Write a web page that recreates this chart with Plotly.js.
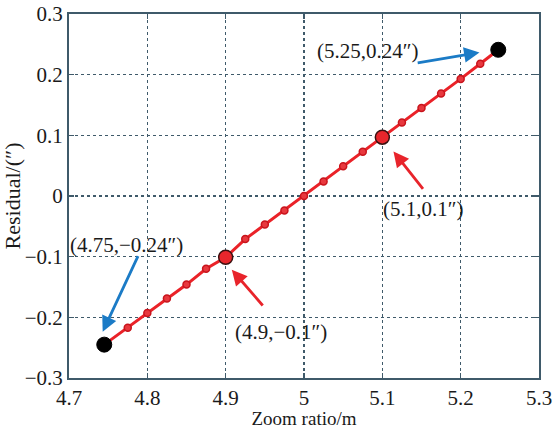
<!DOCTYPE html>
<html>
<head>
<meta charset="utf-8">
<script src="https://cdn.plot.ly/plotly-3.0.1.min.js"></script>
<style>html,body{margin:0;padding:0;background:#fff;}#chart{width:554px;height:429px;}</style>
</head>
<body>
<div id="chart"></div>
<script>
// Data
var zoomRatio = [4.745, 4.775, 4.8, 4.825, 4.85, 4.875, 4.9, 4.925, 4.95, 4.975, 5.0,
                 5.025, 5.05, 5.075, 5.1, 5.125, 5.15, 5.175, 5.2, 5.225, 5.248];
var residual = [-0.245, -0.217, -0.193, -0.169, -0.146, -0.120, -0.101, -0.071, -0.047, -0.024, 0.000,
                0.024, 0.049, 0.073, 0.097, 0.121, 0.145, 0.169, 0.193, 0.218, 0.241];
var highlightX = [4.9, 5.1];
var highlightY = [-0.101, 0.097];
var extremeX = [4.745, 5.248];
var extremeY = [-0.245, 0.241];
var labelTexts = ['(4.75,\u22120.24\u2033)', '(4.9,\u22120.1\u2033)', '(5.1,0.1\u2033)', '(5.25,0.24\u2033)'];
var xTicks = [4.7, 4.8, 4.9, 5.0, 5.1, 5.2, 5.3];
var xTickText = ['4.7', '4.8', '4.9', '5', '5.1', '5.2', '5.3'];
var yTicks = [-0.3, -0.2, -0.1, 0, 0.1, 0.2, 0.3];
var yTickText = ['\u22120.3', '\u22120.2', '\u22120.1', '0', '0.1', '0.2', '0.3'];

// Annotation layout (positions in data coords)
var labelPos = [[4.7728, -0.0803], [4.9708, -0.2237], [5.1521, -0.0209], [5.0815, 0.2384]];
var arrowDefs = [
  {tail: [4.789, -0.0967], head: [4.743, -0.2237], color: '#1b7bc6'},
  {tail: [4.949, -0.183], head: [4.9078, -0.1215], color: '#e8242b'},
  {tail: [5.1534, 0.0093], head: [5.1142, 0.0735], color: '#e8242b'},
  {tail: [5.1432, 0.2192], head: [5.224, 0.2367], color: '#1b7bc6'}
];

var FONT = 'Liberation Serif, Times New Roman, Times, serif';
var AX = '#3f5a6a';
var TXT = '#1a1a1a';

var traces = [
  {x: zoomRatio, y: residual, mode: 'lines+markers', type: 'scatter',
   line: {color: '#ea2228', width: 3},
   marker: {size: 7, color: '#e8383e', line: {color: '#c8141c', width: 1.5}}},
  {x: highlightX, y: highlightY, mode: 'markers', type: 'scatter',
   marker: {size: 14, color: '#e8262c', line: {color: '#3a1010', width: 1.5}}},
  {x: extremeX, y: extremeY, mode: 'markers', type: 'scatter',
   marker: {size: 15, color: '#000000', line: {color: '#000', width: 1}}}
];

var annotations = [];
labelTexts.forEach(function (t, i) {
  annotations.push({x: labelPos[i][0], y: labelPos[i][1], xref: 'x', yref: 'y', text: t,
    showarrow: false, xanchor: 'center', yanchor: 'middle',
    font: {family: FONT, size: 21, color: TXT}});
});
arrowDefs.forEach(function (a) {
  annotations.push({x: a.head[0], y: a.head[1], ax: a.tail[0], ay: a.tail[1],
    xref: 'x', yref: 'y', axref: 'x', ayref: 'y', text: '',
    showarrow: true, arrowhead: 2, arrowsize: 1.1, arrowwidth: 2.8, arrowcolor: a.color,
    standoff: 0, startstandoff: 0});
});

var layout = {
  width: 554, height: 429,
  margin: {l: 69, r: 15, t: 14, b: 51, pad: 0},
  paper_bgcolor: '#ffffff', plot_bgcolor: '#ffffff',
  showlegend: false,
  font: {family: FONT, color: TXT},
  xaxis: {
    range: [4.7, 5.3], tickvals: xTicks, ticktext: xTickText,
    showgrid: true, gridcolor: AX, gridwidth: 1.5, griddash: 'dot',
    showline: true, linecolor: AX, linewidth: 2, mirror: 'ticks',
    ticks: 'inside', ticklen: 5, tickcolor: AX, tickwidth: 1.5,
    zeroline: false, tickfont: {family: FONT, size: 21, color: TXT},
    title: {text: 'Zoom ratio/m', font: {family: FONT, size: 19, color: TXT}, standoff: 4}
  },
  yaxis: {
    range: [-0.3, 0.3], tickvals: yTicks, ticktext: yTickText,
    showgrid: true, gridcolor: AX, gridwidth: 1.5, griddash: 'dot',
    showline: true, linecolor: AX, linewidth: 2, mirror: 'ticks',
    ticks: 'inside', ticklen: 5, tickcolor: AX, tickwidth: 1.5,
    zeroline: false, tickfont: {family: FONT, size: 21, color: TXT},
    title: {text: 'Residual/(\u2033)', font: {family: FONT, size: 22, color: TXT}, standoff: 6}
  },
  annotations: annotations
};

Plotly.newPlot('chart', traces, layout, {displayModeBar: false, staticPlot: true});
</script>
</body>
</html>
